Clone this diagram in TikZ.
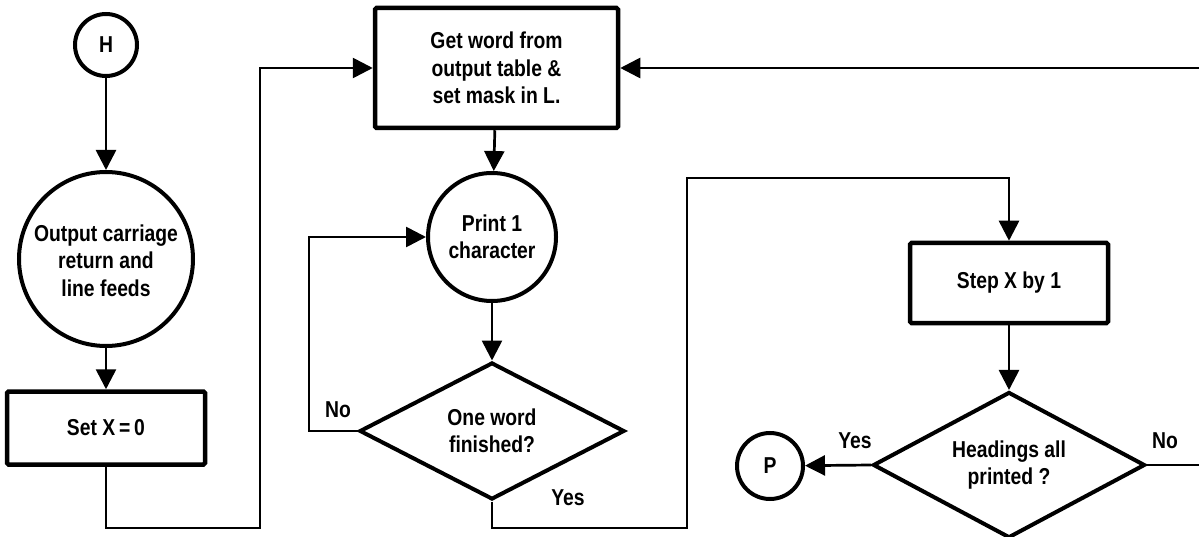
\documentclass[tikz,border=0pt]{standalone}
\usepackage{fontspec}
\setmainfont{Liberation Sans}[FakeStretch=0.84]
\usetikzlibrary{shapes.geometric,arrows.meta}
\tikzset{
  txt/.style={font=\fontsize{23}{27.5}\selectfont\bfseries, align=center},
  procbox/.style={txt, draw, line width=4.5pt, rounded corners=1.5pt, inner sep=0pt},
  circ/.style={txt, draw, circle, line width=4pt, inner sep=0pt},
  dec/.style={txt, draw, diamond, aspect=1.9, line width=4pt, inner sep=0pt},
  arr/.style={line width=2.7pt, -{Triangle[length=20pt,width=20pt]}},
  plain/.style={line width=2.7pt},
  lbl/.style={font=\fontsize{23}{24}\selectfont\bfseries, inner sep=0pt}
}
\begin{document}
\begin{tikzpicture}[x=1pt,y=-1pt]
\useasboundingbox (0,0) rectangle (1199,537);
% nodes
\node[circ, minimum size=62pt] (H) at (106,45) {H};
\node[circ, minimum size=174pt] (outc) at (106,259) {\\[-8pt]Output carriage\\return and\\line feeds};
\node[procbox, minimum width=198pt, minimum height=73pt] (setx) at (106,428) {Set X\,=\,0};
\node[procbox, minimum width=243pt, minimum height=120pt] (getw) at (496.5,68) {Get word from\\output table \&\\set mask in L.};
\node[circ, minimum size=128pt] (printc) at (492,237) {Print 1\\character};
\node[dec, minimum width=265pt, minimum height=137pt] (owf) at (492,431) {One word\\finished?};
\node[procbox, minimum width=198pt, minimum height=80pt] (stepx) at (1009,283) {Step X by 1};
\node[dec, minimum width=272pt, minimum height=146pt] (hap) at (1009,465) {Headings all\\printed ?};
\node[circ, minimum size=66pt] (P) at (770,466) {P};
% coordinates
\coordinate (c1) at (260,528);
\coordinate (c2) at (309,431);
\coordinate (c3) at (687,528);
\coordinate (c4) at (1009,178);
\coordinate (c5) at (1199,465);
\coordinate (c6) at (1199,68);
% connectors
\draw[arr] (H) -- (outc);
\draw[arr] (outc) -- (setx);
\draw[arr] (setx.south) |- (c1) |- (getw.west);
\draw[arr] (getw) -- (printc);
\draw[arr] (printc) -- (owf);
\draw[arr] (owf.west) -- (c2) |- (printc.west);
\draw[arr] (owf.south) |- (c3) |- (c4) -- (stepx.north);
\draw[arr] (stepx) -- (hap);
\draw[arr] (hap.west) -- (P);
\draw[plain] (hap.east) -- (c5);
\draw[arr] (c6) -- (getw.east);
% labels
\node[lbl] (lno1) at (338,410) {No};
\node[lbl] (lyes1) at (568,498) {Yes};
\node[lbl] (lyes2) at (855,441) {Yes};
\node[lbl] (lno2) at (1165,441) {No};
\end{tikzpicture}
\end{document}
